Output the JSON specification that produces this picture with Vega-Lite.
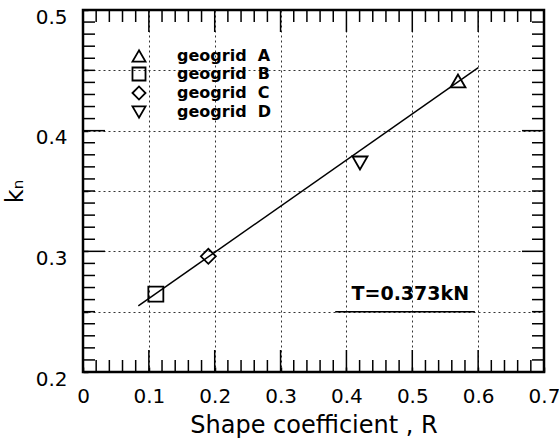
{
  "$schema": "https://vega.github.io/schema/vega-lite/v6.json",
  "width": 461,
  "height": 362,
  "autosize": {"type": "none"},
  "padding": {"left": 83, "top": 10, "right": 15, "bottom": 66},
  "background": "white",
  "config": {"view": {"stroke": "black", "strokeWidth": 2.5}, "font": "DejaVu Sans"},
  "datasets": {
    "fit": [{"R": 0.084, "k": 0.2548}, {"R": 0.6002, "k": 0.4522}],
    "pts": [
      {"grid": "A", "R": 0.5694, "k": 0.4412},
      {"grid": "B", "R": 0.1106, "k": 0.2645},
      {"grid": "C", "R": 0.1903, "k": 0.2959},
      {"grid": "D", "R": 0.4206, "k": 0.3732}
    ],
    "under": [{"R": 0.383, "R2": 0.595, "k": 0.25}],
    "note": [{"R": 0.497, "k": 0.2647, "label": "T=0.373kN"}],
    "xticks": [
      {"R": 0.02, "kind": "minor"}, {"R": 0.04, "kind": "minor"}, {"R": 0.06, "kind": "minor"}, {"R": 0.08, "kind": "minor"},
      {"R": 0.1, "kind": "major"},
      {"R": 0.12, "kind": "minor"}, {"R": 0.14, "kind": "minor"}, {"R": 0.16, "kind": "minor"}, {"R": 0.18, "kind": "minor"},
      {"R": 0.2, "kind": "major"},
      {"R": 0.22, "kind": "minor"}, {"R": 0.24, "kind": "minor"}, {"R": 0.26, "kind": "minor"}, {"R": 0.28, "kind": "minor"},
      {"R": 0.3, "kind": "major"},
      {"R": 0.32, "kind": "minor"}, {"R": 0.34, "kind": "minor"}, {"R": 0.36, "kind": "minor"}, {"R": 0.38, "kind": "minor"},
      {"R": 0.4, "kind": "major"},
      {"R": 0.42, "kind": "minor"}, {"R": 0.44, "kind": "minor"}, {"R": 0.46, "kind": "minor"}, {"R": 0.48, "kind": "minor"},
      {"R": 0.5, "kind": "major"},
      {"R": 0.52, "kind": "minor"}, {"R": 0.54, "kind": "minor"}, {"R": 0.56, "kind": "minor"}, {"R": 0.58, "kind": "minor"},
      {"R": 0.6, "kind": "major"},
      {"R": 0.62, "kind": "minor"}, {"R": 0.64, "kind": "minor"}, {"R": 0.66, "kind": "minor"}, {"R": 0.68, "kind": "minor"}
    ],
    "yticks": [
      {"k": 0.21, "kind": "minor"}, {"k": 0.22, "kind": "minor"}, {"k": 0.23, "kind": "minor"}, {"k": 0.24, "kind": "minor"},
      {"k": 0.25, "kind": "minor"}, {"k": 0.26, "kind": "minor"}, {"k": 0.27, "kind": "minor"}, {"k": 0.28, "kind": "minor"}, {"k": 0.29, "kind": "minor"},
      {"k": 0.3, "kind": "major"},
      {"k": 0.31, "kind": "minor"}, {"k": 0.32, "kind": "minor"}, {"k": 0.33, "kind": "minor"}, {"k": 0.34, "kind": "minor"},
      {"k": 0.35, "kind": "minor"}, {"k": 0.36, "kind": "minor"}, {"k": 0.37, "kind": "minor"}, {"k": 0.38, "kind": "minor"}, {"k": 0.39, "kind": "minor"},
      {"k": 0.4, "kind": "major"},
      {"k": 0.41, "kind": "minor"}, {"k": 0.42, "kind": "minor"}, {"k": 0.43, "kind": "minor"}, {"k": 0.44, "kind": "minor"},
      {"k": 0.45, "kind": "minor"}, {"k": 0.46, "kind": "minor"}, {"k": 0.47, "kind": "minor"}, {"k": 0.48, "kind": "minor"}, {"k": 0.49, "kind": "minor"}
    ]
  },
  "layer": [
    {
      "data": {"name": "fit"},
      "mark": {"type": "line", "color": "black", "strokeWidth": 1.5},
      "encoding": {
        "x": {
          "field": "R", "type": "quantitative",
          "scale": {"domain": [0, 0.7], "nice": false, "zero": false},
          "axis": {
            "orient": "bottom", "offset": -5,
            "values": [0,0.1,0.2,0.3,0.4,0.5,0.6,0.7],
            "labelExpr": "datum.value == 0 ? '0' : format(datum.value, '.1f')",
            "labelFlush": false, "labelOverlap": false, "labelBound": false,
            "labelFont": "DejaVu Sans", "labelFontSize": 20, "labelColor": "black", "labelPadding": 14,
            "ticks": true, "tickColor": "black", "tickWidth": 1.5, "tickSize": 5,
            "grid": true, "gridColor": "#333", "gridDash": [2, 3], "gridWidth": 1,
            "gridOpacity": {"condition": {"test": "datum.value > 0.05 && datum.value < 0.65", "value": 1}, "value": 0},
            "domain": false,
            "title": "Shape coefficient , R",
            "titleFont": "DejaVu Sans", "titleFontSize": 24, "titleFontWeight": "normal", "titleColor": "black", "titlePadding": 7
          }
        },
        "y": {
          "field": "k", "type": "quantitative",
          "scale": {"domain": [0.2, 0.5], "nice": false, "zero": false},
          "axis": {
            "orient": "left", "offset": -5,
            "values": [0.2,0.25,0.3,0.35,0.4,0.45,0.5],
            "labelExpr": "abs(datum.value*10 - round(datum.value*10)) < 0.001 ? format(datum.value, '.1f') : ''",
            "labelFlush": false, "labelOverlap": false, "labelBound": false,
            "labelFont": "DejaVu Sans", "labelFontSize": 20, "labelColor": "black", "labelPadding": 16, "labelOffset": 7,
            "ticks": true, "tickColor": "black", "tickWidth": 1.5, "tickSize": 5,
            "grid": true, "gridColor": "#333", "gridDash": [2, 3], "gridWidth": 1,
            "gridOpacity": {"condition": {"test": "datum.value > 0.21 && datum.value < 0.49", "value": 1}, "value": 0},
            "domain": false,
            "title": "k\u2099",
            "titleFont": "DejaVu Sans", "titleFontSize": 24, "titleFontWeight": "normal", "titleColor": "black", "titlePadding": 8
          }
        }
      }
    },
    {
      "data": {"name": "xticks"},
      "transform": [{"filter": {"field": "kind", "equal": "minor"}}],
      "mark": {"type": "tick", "orient": "vertical", "thickness": 1.5, "color": "black", "opacity": 1, "size": 12, "yOffset": -6},
      "encoding": {
        "x": {"field": "R", "type": "quantitative", "axis": null},
        "y": {"datum": 0.2, "type": "quantitative", "axis": null}
      }
    },
    {
      "data": {"name": "xticks"},
      "transform": [{"filter": {"field": "kind", "equal": "major"}}],
      "mark": {"type": "tick", "orient": "vertical", "thickness": 1.5, "color": "black", "opacity": 1, "size": 22, "yOffset": -11},
      "encoding": {
        "x": {"field": "R", "type": "quantitative", "axis": null},
        "y": {"datum": 0.2, "type": "quantitative", "axis": null}
      }
    },
    {
      "data": {"name": "xticks"},
      "transform": [{"filter": {"field": "kind", "equal": "minor"}}],
      "mark": {"type": "tick", "orient": "vertical", "thickness": 1.5, "color": "black", "opacity": 1, "size": 12, "yOffset": 6},
      "encoding": {
        "x": {"field": "R", "type": "quantitative", "axis": null},
        "y": {"datum": 0.5, "type": "quantitative", "axis": null}
      }
    },
    {
      "data": {"name": "xticks"},
      "transform": [{"filter": {"field": "kind", "equal": "major"}}],
      "mark": {"type": "tick", "orient": "vertical", "thickness": 1.5, "color": "black", "opacity": 1, "size": 22, "yOffset": 11},
      "encoding": {
        "x": {"field": "R", "type": "quantitative", "axis": null},
        "y": {"datum": 0.5, "type": "quantitative", "axis": null}
      }
    },
    {
      "data": {"name": "yticks"},
      "transform": [{"filter": {"field": "kind", "equal": "minor"}}],
      "mark": {"type": "tick", "orient": "horizontal", "thickness": 1.5, "color": "black", "opacity": 1, "size": 12, "xOffset": 6},
      "encoding": {
        "y": {"field": "k", "type": "quantitative", "axis": null},
        "x": {"datum": 0, "type": "quantitative", "axis": null}
      }
    },
    {
      "data": {"name": "yticks"},
      "transform": [{"filter": {"field": "kind", "equal": "major"}}],
      "mark": {"type": "tick", "orient": "horizontal", "thickness": 1.5, "color": "black", "opacity": 1, "size": 22, "xOffset": 11},
      "encoding": {
        "y": {"field": "k", "type": "quantitative", "axis": null},
        "x": {"datum": 0, "type": "quantitative", "axis": null}
      }
    },
    {
      "data": {"name": "yticks"},
      "transform": [{"filter": {"field": "kind", "equal": "minor"}}],
      "mark": {"type": "tick", "orient": "horizontal", "thickness": 1.5, "color": "black", "opacity": 1, "size": 12, "xOffset": -6},
      "encoding": {
        "y": {"field": "k", "type": "quantitative", "axis": null},
        "x": {"datum": 0.7, "type": "quantitative", "axis": null}
      }
    },
    {
      "data": {"name": "yticks"},
      "transform": [{"filter": {"field": "kind", "equal": "major"}}],
      "mark": {"type": "tick", "orient": "horizontal", "thickness": 1.5, "color": "black", "opacity": 1, "size": 22, "xOffset": -11},
      "encoding": {
        "y": {"field": "k", "type": "quantitative", "axis": null},
        "x": {"datum": 0.7, "type": "quantitative", "axis": null}
      }
    },
    {
      "data": {"name": "pts"},
      "mark": {"type": "point", "filled": false, "color": "black", "strokeWidth": 1.8, "opacity": 1, "size": 225},
      "encoding": {
        "x": {"field": "R", "type": "quantitative", "axis": null},
        "y": {"field": "k", "type": "quantitative", "axis": null},
        "shape": {
          "field": "grid", "type": "nominal",
          "scale": {"domain": ["A", "B", "C", "D"], "range": ["triangle-up", "square", "diamond", "triangle-down"]},
          "legend": {
            "title": null, "orient": "none", "legendX": 48, "legendY": 38, "direction": "vertical",
            "labelExpr": "'geogrid\u00a0\u00a0' + datum.label",
            "labelFont": "DejaVu Sans", "labelFontWeight": "bold", "labelFontSize": 16, "labelColor": "black",
            "symbolSize": 170, "symbolStrokeWidth": 1.8, "symbolStrokeColor": "black", "symbolFillColor": "transparent",
            "labelOffset": 30, "rowPadding": -9, "padding": 0
          }
        }
      }
    },
    {
      "data": {"name": "under"},
      "mark": {"type": "rule", "color": "black", "strokeWidth": 1.5},
      "encoding": {
        "x": {"field": "R", "type": "quantitative", "axis": null},
        "x2": {"field": "R2"},
        "y": {"field": "k", "type": "quantitative", "axis": null}
      }
    },
    {
      "data": {"name": "note"},
      "mark": {"type": "text", "font": "DejaVu Sans", "fontWeight": "bold", "fontSize": 19, "align": "center", "baseline": "middle", "color": "black"},
      "encoding": {
        "x": {"field": "R", "type": "quantitative", "axis": null},
        "y": {"field": "k", "type": "quantitative", "axis": null},
        "text": {"field": "label"}
      }
    }
  ],
  "resolve": {"axis": {"x": "independent", "y": "independent"}}
}
